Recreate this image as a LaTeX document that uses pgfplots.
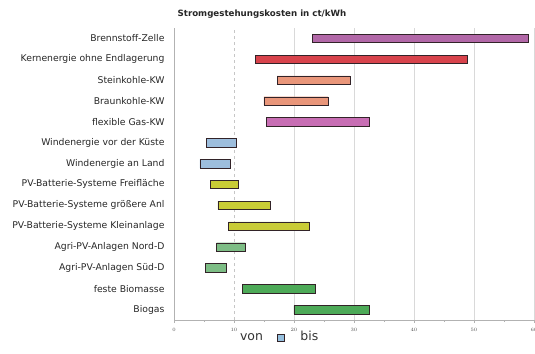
\documentclass[border=0pt]{standalone}
\usepackage{fontspec}
\setmainfont{DejaVu Sans}
\usepackage{pgfplots}
\usepackage{pgfplotstable}
\pgfplotsset{compat=1.18}
\definecolor{cA}{RGB}{178,104,168}
\definecolor{cB}{RGB}{216,67,76}
\definecolor{cC}{RGB}{233,150,122}
\definecolor{cD}{RGB}{200,110,180}
\definecolor{cE}{RGB}{157,190,221}
\definecolor{cF}{RGB}{201,204,54}
\definecolor{cG}{RGB}{125,189,133}
\definecolor{cH}{RGB}{77,170,88}
\definecolor{bord}{RGB}{50,35,40}
\definecolor{legblue}{RGB}{150,192,222}
\pgfplotstableread{
y von bis g
0 20.0 32.5 8
1 11.4 23.5 8
2 5.2 8.7 7
3 7.1 11.9 7
4 9.1 22.5 6
5 7.3 16.0 6
6 6.1 10.7 6
7 4.3 9.3 5
8 5.4 10.3 5
9 15.4 32.6 4
10 15.0 25.7 3
11 17.2 29.3 3
12 13.6 48.9 2
13 23.1 59.0 1
}\data
\begin{document}
\begin{tikzpicture}
\useasboundingbox (-174bp,-34bp) rectangle (361bp,320bp);
\begin{axis}[
  at={(0,0)}, anchor=south west,
  scale only axis, width=360bp, height=292bp,
  xmin=0, xmax=60, ymin=-0.5, ymax=13.5,
  xbar stacked, bar width=8.5bp,
  axis lines*=left,
  axis line style={draw=gray!60, line width=0.6pt},
  xtick={0,20,30,40,50,60},
  extra x ticks={10},
  extra x tick style={major grid style={dashed, gray!45, line width=0.6pt}},
  minor xtick={5,15,25,35,45,55},
  xmajorgrids,
  major grid style={gray!30, line width=0.8pt},
  tick align=outside,
  major tick length=3bp, minor tick length=2bp,
  x tick style={gray!60},
  ytick={0,...,13},
  yticklabels={Biogas, feste Biomasse, Agri-PV-Anlagen Süd-D, Agri-PV-Anlagen Nord-D, PV-Batterie-Systeme Kleinanlage, PV-Batterie-Systeme größere Anl, PV-Batterie-Systeme Freifläche, Windenergie an Land, Windenergie vor der Küste, flexible Gas-KW, Braunkohle-KW, Steinkohle-KW, Kernenergie ohne Endlagerung, Brennstoff-Zelle},
  y tick style={draw=none},
  yticklabel style={font=\fontsize{9.3}{10}\selectfont, text=black!85, xshift=-3bp},
  xticklabel style={font=\fontsize{5.5}{6}\selectfont, text=black!70, yshift=-2bp},
  legend columns=2,
  legend style={draw=none, fill=none, at={(0.169,-0.062)}, anchor=west,
    font=\fontsize{12.5}{13}\selectfont, text=black!80,
    nodes={text height=0.75em, text depth=0.22em},
    /tikz/every even column/.append style={column sep=12bp}},
]
\addplot[draw=none, fill=none, legend image code/.code={\path (0bp,-3.5bp) rectangle (0bp,3.5bp);}] table[x=von, y=y]{\data};
\addlegendentry{von}
\addplot[fill=cA, draw=bord, forget plot] table[x expr={ifthenelse(\thisrow{g}==1,\thisrow{bis}-\thisrow{von},0)}, y=y]{\data};
\addplot[fill=cB, draw=bord, forget plot] table[x expr={ifthenelse(\thisrow{g}==2,\thisrow{bis}-\thisrow{von},0)}, y=y]{\data};
\addplot[fill=cC, draw=bord, forget plot] table[x expr={ifthenelse(\thisrow{g}==3,\thisrow{bis}-\thisrow{von},0)}, y=y]{\data};
\addplot[fill=cD, draw=bord, forget plot] table[x expr={ifthenelse(\thisrow{g}==4,\thisrow{bis}-\thisrow{von},0)}, y=y]{\data};
\addplot[fill=cE, draw=bord, forget plot] table[x expr={ifthenelse(\thisrow{g}==5,\thisrow{bis}-\thisrow{von},0)}, y=y]{\data};
\addplot[fill=cF, draw=bord, forget plot] table[x expr={ifthenelse(\thisrow{g}==6,\thisrow{bis}-\thisrow{von},0)}, y=y]{\data};
\addplot[fill=cG, draw=bord, forget plot] table[x expr={ifthenelse(\thisrow{g}==7,\thisrow{bis}-\thisrow{von},0)}, y=y]{\data};
\addplot[fill=cH, draw=bord, forget plot] table[x expr={ifthenelse(\thisrow{g}==8,\thisrow{bis}-\thisrow{von},0)}, y=y]{\data};
\addlegendimage{legend image code/.code={\draw[fill=legblue, draw=bord, line width=0.6pt] (0bp,-3.5bp) rectangle (7bp,3.5bp); \path (21bp,0bp);}}
\addlegendentry{bis}
\end{axis}
\node[font=\bfseries\fontsize{8.7}{10}\selectfont, text=black!85] at (88bp,306bp) {Stromgestehungskosten in ct/kWh};
\end{tikzpicture}
\end{document}
